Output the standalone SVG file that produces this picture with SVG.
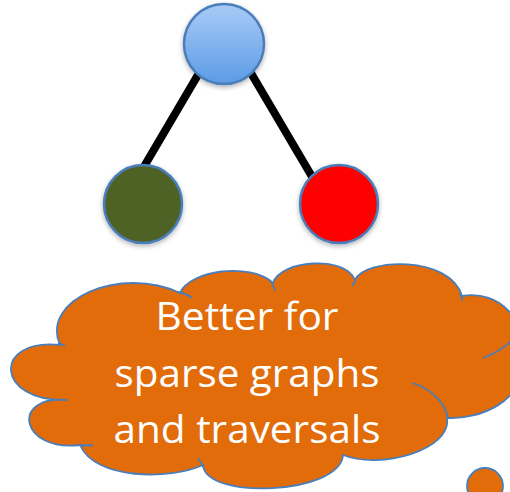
<svg xmlns="http://www.w3.org/2000/svg" width="510" height="492" viewBox="0 0 510 492">
<defs>
<linearGradient id="gTop" x1="0" y1="0" x2="0" y2="1">
<stop offset="0" stop-color="#A9CBF7"/>
<stop offset="1" stop-color="#5B9BE6"/>
</linearGradient>
<filter id="sh" x="-30%" y="-30%" width="160%" height="160%">
<feDropShadow dx="0" dy="2" stdDeviation="2.5" flood-color="#000" flood-opacity="0.3"/>
</filter>
</defs>
<style>
.node{stroke:#4A7EBB;stroke-width:2.5;filter:url(#sh)}
.edge{stroke:#000;stroke-width:8;stroke-linecap:butt}
.cloud{fill:#E36C0A;stroke:#4A7EBB;stroke-width:1.8}
.inner{fill:none;stroke:#4A7EBB;stroke-width:1.8}
.lbl{font-family:"Open Sans","Noto Sans",sans-serif;font-size:39px;fill:#FFFFFF;text-anchor:middle}
</style>
<g id="connectors">
<line class="edge" x1="202" y1="68" x2="142" y2="170"/>
<line class="edge" x1="248" y1="68" x2="314" y2="180"/>
</g>
<g id="node-root"><circle class="node" cx="224" cy="44" r="40" fill="url(#gTop)"/></g>
<g id="node-left"><circle class="node" cx="143" cy="204" r="39" fill="#4F6228"/></g>
<g id="node-right"><circle class="node" cx="339" cy="204" r="39" fill="#FF0000"/></g>
<g id="cloud">
<path class="cloud" d="M60,345 C40,300 120,265 180,293 C190,270 250,262 273,283 C280,260 345,255 355,280 C365,258 450,255 462,296 C500,290 530,320 520,365 C525,400 480,420 447,418 C452,450 380,470 343,455 C340,495 205,500 203,465 C170,480 95,480 80,445 C20,452 10,395 67,400 C-5,402 -8,338 60,345 Z"/>
<path class="inner" d="M177,292 Q186,293 192,298"/>
<path class="inner" d="M272,283 Q273,287 276,291"/>
<path class="inner" d="M356,281 Q354,283 352,286"/>
<path class="inner" d="M460,293 Q462,297 462,301"/>
<path class="inner" d="M483,358 Q500,352 515,338"/>
<path class="inner" d="M412,383 C430,388 445,402 448,418"/>
<path class="inner" d="M198,458 Q201,462 203,467"/>
<path class="inner" d="M80,445 Q87,446 93,445"/>
<path class="inner" d="M58,343 Q62,344 65,346"/>
<text class="lbl" x="247" y="330" textLength="183" lengthAdjust="spacingAndGlyphs">Better for</text>
<text class="lbl" x="247" y="387" textLength="265" lengthAdjust="spacingAndGlyphs">sparse graphs</text>
<text class="lbl" x="247" y="443" textLength="267" lengthAdjust="spacingAndGlyphs">and traversals</text>
</g>
<g id="bubble"><circle cx="485" cy="486" r="18" fill="#E36C0A" stroke="#4A7EBB" stroke-width="1.8"/></g>
</svg>
